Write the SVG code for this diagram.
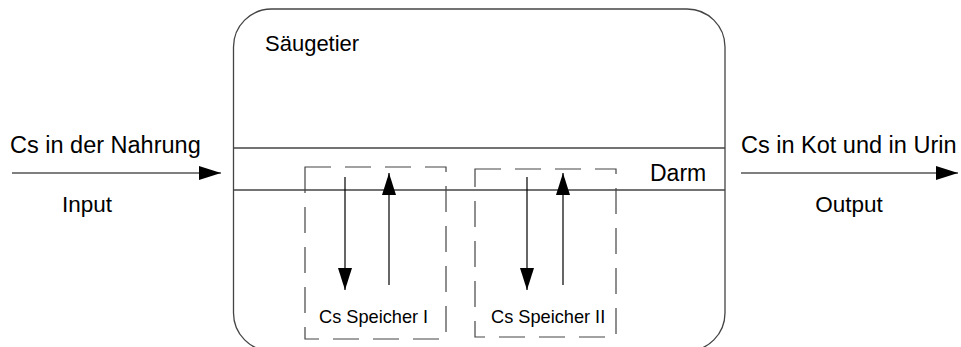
<svg xmlns="http://www.w3.org/2000/svg" width="961" height="347" viewBox="0 0 961 347">
<style>
text{font-family:"Liberation Sans",Arial,sans-serif;fill:#000}
.big{font-size:22px}
.lbl{font-size:23.5px}
.small{font-size:18.2px}
.edge{fill:none;stroke:#444;stroke-width:1.3}
.dash{fill:none;stroke:#444;stroke-width:1.2;stroke-dasharray:26 14}
.arr{stroke:#000;stroke-width:1.2;fill:none;marker-end:url(#ah)}
</style>
<defs>
<marker id="ah" markerWidth="22" markerHeight="14" refX="22" refY="7" orient="auto" markerUnits="userSpaceOnUse">
<path d="M0,0 L22,7 L0,14 Z" fill="#000"/>
</marker>
</defs>
<g id="saeugetier">
<rect class="edge" x="233.5" y="9" width="491.5" height="342" rx="38" ry="38"/>
<text class="big" x="265" y="51">Säugetier</text>
</g>
<g id="darm">
<line class="edge" x1="233.5" y1="148" x2="725" y2="148"/>
<line class="edge" x1="233.5" y1="190" x2="725" y2="190"/>
<text class="big" x="650" y="181" style="font-size:23px">Darm</text>
</g>
<g id="speicher1">
<rect class="dash" x="305" y="167" width="141" height="172"/>
<text class="small" x="319" y="323">Cs Speicher I</text>
</g>
<g id="speicher2">
<rect class="dash" x="475" y="169" width="141" height="168"/>
<text class="small" x="491" y="323">Cs Speicher II</text>
</g>
<g id="input">
<text class="lbl" x="10" y="153">Cs in der Nahrung</text>
<text class="big" x="87" y="212" text-anchor="middle" style="font-size:22.5px">Input</text>
</g>
<g id="output">
<text class="lbl" x="741" y="153">Cs in Kot und in Urin</text>
<text class="big" x="849" y="212" text-anchor="middle" style="font-size:22.5px">Output</text>
</g>
<g id="connectors">
<line class="arr" x1="12" y1="173" x2="221" y2="173"/>
<line class="arr" x1="741" y1="173" x2="958" y2="173"/>
<line class="arr" x1="345" y1="177" x2="345" y2="290"/>
<line class="arr" x1="389" y1="285" x2="389" y2="173"/>
<line class="arr" x1="527" y1="177" x2="527" y2="290"/>
<line class="arr" x1="563" y1="285" x2="563" y2="173"/>
</g>
</svg>
